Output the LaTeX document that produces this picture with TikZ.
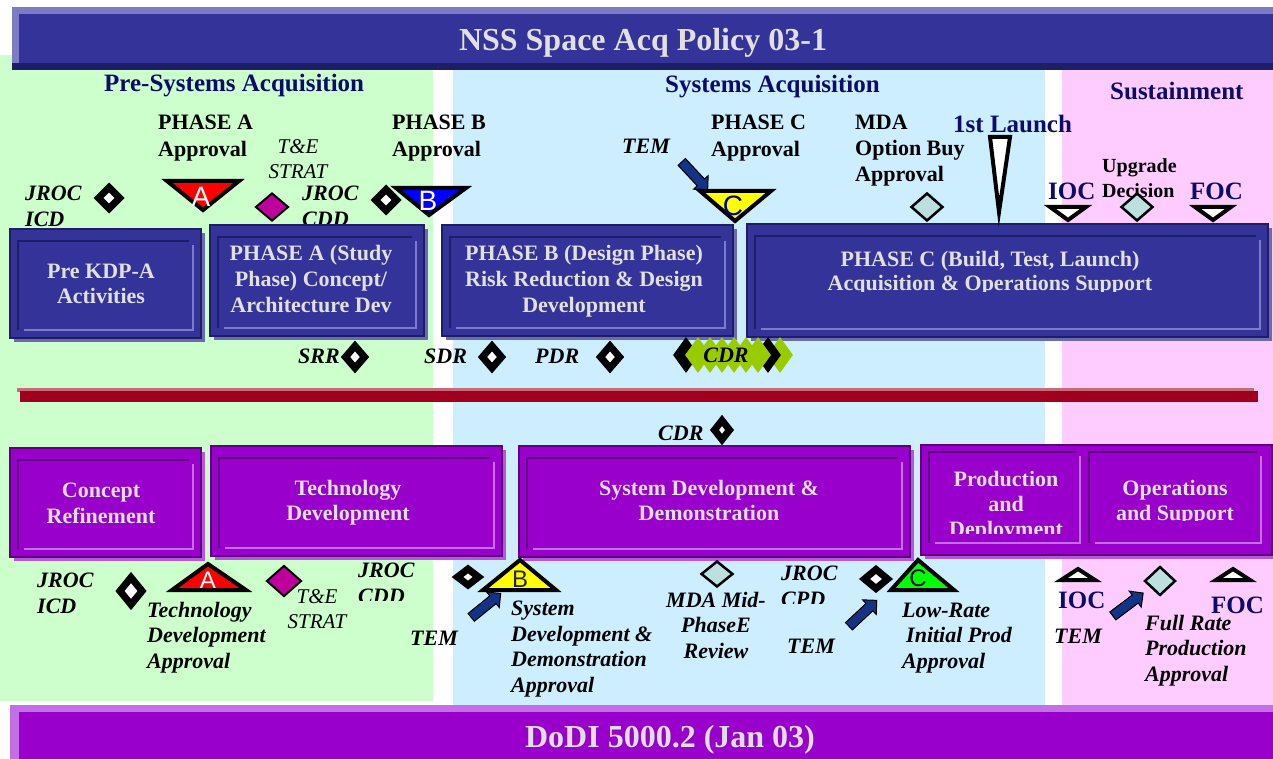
\documentclass[tikz,border=0pt]{standalone}
\usepackage{fontspec}
\setmainfont{Liberation Serif}
\newfontfamily\sansf{Liberation Sans}
\usetikzlibrary{shapes.geometric,shapes.arrows,fit}
\definecolor{navy}{HTML}{333399}
\definecolor{navydk}{HTML}{1E1E66}
\definecolor{navylt}{HTML}{7C7CC4}
\definecolor{navysh}{HTML}{6A6AB0}
\definecolor{purp}{HTML}{9900CC}
\definecolor{purpdk}{HTML}{5E0080}
\definecolor{purplt}{HTML}{C36FE6}
\definecolor{purpsh}{HTML}{B855DD}
\definecolor{boxtxt}{HTML}{E0E0E0}
\definecolor{ttl}{HTML}{0B0B6B}
\definecolor{bggreen}{HTML}{CCFFCC}
\definecolor{bgblue}{HTML}{CCEEFF}
\definecolor{bgpink}{HTML}{FFCCFF}
\definecolor{redln}{HTML}{A0001E}
\definecolor{redlt}{HTML}{C86A78}
\definecolor{tealc}{HTML}{BCE0E0}
\definecolor{magent}{HTML}{C0009C}
\definecolor{arrnavy}{HTML}{143384}
\definecolor{cdrgreen}{HTML}{99CC00}
\definecolor{triyel}{HTML}{FFFF00}
\definecolor{trigrn}{HTML}{00FF00}
\definecolor{triblu}{HTML}{0000FF}
\definecolor{trired}{HTML}{FF0000}
\definecolor{cnavy}{HTML}{000099}
% frame lines inside a bevelled box: x1 y1 x2 y2 dark light
\newcommand\bevframe[6]{%
  \draw[#5, line width=2.5pt] (#1,#4) -- (#1,#2) -- (#3-4,#2);
  \draw[#6, line width=2.5pt] (#1+6,#4) -- (#3,#4) -- (#3,#2+4);
}
% name x1 y1 x2 y2 fill dark light shadow
\newcommand\bevbox[9]{%
  \fill[#9] (#2+4,#3+4) rectangle (#4+4,#5+4);
  \node[fit={(#2,#3) (#4,#5)}, inner sep=0pt, fill=#6, draw=#7, line width=2pt] (#1) {};
  \bevframe{#2+8}{#3+12}{#4-8}{#5-8}{#7}{#8}
}
\begin{document}
\begin{tikzpicture}[x=1pt,y=-1pt,
  lbl/.style={font=\fontsize{22}{27}\selectfont\bfseries, align=left, anchor=base west, inner sep=0pt},
  ilbl/.style={font=\fontsize{22}{25.5}\selectfont\bfseries\itshape, align=left, anchor=base west, inner sep=0pt},
  tlbl/.style={font=\fontsize{21}{25}\selectfont\itshape, align=center, anchor=base, inner sep=0pt},
  region/.style={font=\fontsize{25}{30}\selectfont\bfseries, text=ttl, anchor=base west, inner sep=0pt},
  boxt/.style={font=\fontsize{22}{26}\selectfont\bfseries, text=boxtxt, align=center, anchor=base, inner sep=0pt},
  bart/.style={font=\fontsize{32}{36}\selectfont\bfseries, text=boxtxt, inner sep=0pt},
  blkdia/.style={diamond, draw=black, fill=white, line width=7pt, inner sep=0pt},
  tealdia/.style={diamond, draw=black, fill=tealc, line width=2.5pt, inner sep=0pt},
  magdia/.style={diamond, draw=black, fill=magent, line width=2pt, inner sep=0pt},
  cdrg/.style={diamond, fill=cdrgreen, minimum width=26pt, minimum height=36pt, inner sep=0pt},
  cdrb/.style={diamond, fill=black, minimum width=26pt, minimum height=36pt, inner sep=0pt},
  tri/.style={draw=black, line width=4pt, line join=miter},
  trilet/.style={font=\sansf\fontsize{28}{28}\selectfont, inner sep=0pt},
  trilets/.style={font=\sansf\fontsize{24}{24}\selectfont, inner sep=0pt},
  temarrow/.style={single arrow, draw=black, line width=1pt, fill=arrnavy, minimum height=38pt, minimum width=20pt, single arrow head extend=5pt, inner sep=4.5pt}
]
\useasboundingbox (0,0) rectangle (1273,759);
% backgrounds
\fill[bggreen] (0,55) rectangle (433,701);
\fill[bgblue] (453,70) rectangle (1045,705);
\fill[bgpink] (1062,70) rectangle (1273,705);
% top bar
\fill[navylt] (12,7) rectangle (1273,70);
\fill[navydk] (12,63) rectangle (1273,70);
\node[fit={(19,14) (1273,63)}, inner sep=0pt, fill=navy] (topbar) {};
\node[bart] (toptitle) at (643,43) {NSS Space Acq Policy 03-1};
% bottom bar
\fill[purplt] (10,705) rectangle (1273,759);
\node[fit={(19,712) (1273,759)}, inner sep=0pt, fill=purp] (botbar) {};
\node[bart] (bottitle) at (670,740) {DoDI 5000.2 (Jan 03)};
% region titles
\node[region] (pretitle) at (104,92) {Pre-Systems Acquisition};
\node[region] (systitle) at (665,93) {Systems Acquisition};
\node[region] (susttitle) at (1110,100) {Sustainment};
% top labels (base anchor = baseline of last line)
\node[lbl] (phAappr) at (158,157) {PHASE A\\Approval};
\node[tlbl] (teT) at (298,179) {T\&E\\STRAT};
\node[ilbl] (jrocicdT) at (25,226) {JROC\\ICD};
\node[ilbl] (jroccddT) at (302,226) {JROC\\CDD};
\node[lbl] (phBappr) at (392,157) {PHASE B\\Approval};
\node[ilbl] (temT) at (622,154) {TEM};
\node[lbl] (phCappr) at (711,157) {PHASE C\\Approval};
\node[lbl, font=\fontsize{22}{26}\selectfont\bfseries] (mdaopt) at (855,182) {MDA\\Option Buy\\Approval};
\node[region] (launch) at (953,133) {1st Launch};
\begin{scope}
\clip (1095,150) rectangle (1190,200);
\node[lbl, font=\fontsize{20}{25}\selectfont\bfseries] (upgrade) at (1102,198) {Upgrade\\Decision};
\end{scope}
\node[region] (iocT) at (1048,200) {IOC};
\node[region] (focT) at (1190,200) {FOC};
% top boxes
\bevbox{preKDP}{10}{229}{201}{338}{navy}{navydk}{navylt}{navysh}
\bevbox{phaseA}{210}{225}{424}{336}{navy}{navydk}{navylt}{navysh}
\bevbox{phaseB}{442}{225}{733}{336}{navy}{navydk}{navylt}{navysh}
\bevbox{phaseC}{747}{224}{1268}{337}{navy}{navydk}{navylt}{navysh}
\node[boxt, font=\fontsize{22}{25}\selectfont\bfseries] (preKDPt) at (101,303) {Pre KDP-A\\Activities};
\node[boxt] (phaseAt) at (311,312) {PHASE A (Study\\Phase) Concept/\\Architecture Dev};
\node[boxt] (phaseBt) at (584,312) {PHASE B (Design Phase)\\Risk Reduction \& Design\\Development};
\begin{scope}
\clip (760,240) rectangle (1250,291);
\node[boxt, font=\fontsize{22}{24}\selectfont\bfseries] (phaseCt) at (990,290) {PHASE C (Build, Test, Launch)\\Acquisition \& Operations Support};
\end{scope}
% top markers
\node[blkdia, minimum width=24pt, minimum height=24pt] (icdTd) at (109,198) {};
\draw[tri, fill=trired] (167,181) -- (239,181) -- (203,210) -- cycle;
\node[trilet, text=white] (triAtop) at (201,197) {A};
\node[magdia, minimum width=33pt, minimum height=28pt] (teTd) at (272,207) {};
\draw[tri, fill=triblu] (396,188) -- (466,188) -- (429,215) -- cycle;
\node[trilet, text=white] (triBtop) at (428,201) {B};
\node[blkdia, minimum width=24pt, minimum height=24pt] (cddTd) at (386,200) {};
\node[temarrow, rotate=-47] (temTa) at (693,174) {};
\draw[tri, fill=triyel] (700,191) -- (771,191) -- (735,221) -- cycle;
\node[trilet, text=cnavy] (triCtop) at (733,206) {C};
\node[tealdia, minimum width=32pt, minimum height=28pt] (mdaoptd) at (927,207) {};
\draw[tri, fill=white] (990,137) -- (1010,137) -- (999,212) -- cycle;
\draw[tri, fill=white] (1050,207) -- (1086,207) -- (1068,220) -- cycle;
\node[tealdia, minimum width=32pt, minimum height=28pt] (upgraded) at (1137,207) {};
\draw[tri, fill=white] (1195,207) -- (1231,207) -- (1213,220) -- cycle;
% review milestones
\node[ilbl] (srr) at (298,363) {SRR};
\node[blkdia, minimum width=22pt, minimum height=25pt] (srrd) at (355,357) {};
\node[ilbl] (sdr) at (424,363) {SDR};
\node[blkdia, minimum width=22pt, minimum height=25pt] (sdrd) at (492,357) {};
\node[ilbl] (pdr) at (535,363) {PDR};
\node[blkdia, minimum width=22pt, minimum height=25pt] (pdrd) at (610,357) {};
% CDR band
\node[cdrg] (cdrgR) at (780,355) {};
\node[cdrb] (cdrbR) at (768,355) {};
\node[cdrb] (cdrbL) at (686,355) {};
\foreach \cx in {698,710,722,734,746,758} {\node[cdrg] (cdrg\cx) at (\cx,355) {};}
\node[ilbl, anchor=base] (cdrTop) at (726,362) {CDR};
% divider
\fill[redlt] (17,388) rectangle (1254,392);
\node[fit={(20,391) (1258,402)}, inner sep=0pt, fill=redln] (divider) {};
% bottom CDR
\node[ilbl] (cdrB) at (658,440) {CDR};
\node[blkdia, minimum width=18pt, minimum height=22pt] (cdrBd) at (722,430) {};
% bottom boxes
\bevbox{concept}{10}{448}{201}{557}{purp}{purpdk}{purplt}{purpsh}
\bevbox{techdev}{211}{446}{502}{556}{purp}{purpdk}{purplt}{purpsh}
\bevbox{sdd}{519}{446}{910}{557}{purp}{purpdk}{purplt}{purpsh}
\fill[purpsh] (925,449) rectangle (1276,559);
\node[fit={(921,445) (1272,555)}, inner sep=0pt, fill=purp, draw=purpdk, line width=2pt] (prodops) {};
\bevframe{929}{452}{1080}{543}{purpdk}{purplt}
\bevframe{1089}{452}{1261}{543}{purpdk}{purplt}
\node[boxt] (conceptt) at (101,523) {Concept\\Refinement};
\node[boxt, font=\fontsize{22}{25}\selectfont\bfseries] (techdevt) at (348,520) {Technology\\Development};
\node[boxt, font=\fontsize{22}{25}\selectfont\bfseries] (sddt) at (709,520) {System Development \&\\Demonstration};
\begin{scope}
\clip (932,456) rectangle (1078,533);
\node[boxt, font=\fontsize{22}{25}\selectfont\bfseries] (prodt) at (1006,536) {Production\\and\\Deployment};
\end{scope}
\begin{scope}
\clip (1092,456) rectangle (1258,520);
\node[boxt, font=\fontsize{22}{25}\selectfont\bfseries] (opst) at (1175,520) {Operations\\and Support};
\end{scope}
% bottom labels and markers
\node[ilbl, font=\fontsize{22}{26}\selectfont\bfseries\itshape] (jrocicdB) at (37,613) {JROC\\ICD};
\node[blkdia, minimum width=25pt, minimum height=30pt] (icdBd) at (131,591) {};
\draw[tri, fill=trired] (172,590) -- (246,590) -- (208,564) -- cycle;
\node[trilets, text=white] (triAbot) at (208,580) {A};
\node[ilbl] (tdappr) at (147,668) {Technology\\Development\\Approval};
\node[magdia, minimum width=35pt, minimum height=31pt] (teBd) at (284,581) {};
\node[tlbl] (teB) at (317,628) {T\&E\\STRAT};
\begin{scope}
\clip (350,545) rectangle (445,600);
\node[ilbl] (jroccddB) at (358,603) {JROC\\CDD};
\end{scope}
\draw[tri, fill=triyel] (483,590) -- (556,590) -- (520,560) -- cycle;
\node[trilets, text=black!85] (triBbot) at (520,579) {B};
\node[blkdia, minimum width=24pt, minimum height=19pt] (cddBd) at (468,577) {};
\node[temarrow, rotate=39] (temBa1) at (484,607) {};
\node[ilbl] (temB1) at (410,645) {TEM};
\node[ilbl] (sddappr) at (511,692) {System\\Development \&\\Demonstration\\Approval};
\node[tealdia, minimum width=32pt, minimum height=26pt] (mdamidd) at (717,574) {};
\node[ilbl, align=center, anchor=base] (mdamid) at (716,658) {MDA Mid-\\PhaseE\\Review};
\begin{scope}
\clip (775,545) rectangle (850,603);
\node[ilbl] (jroccpd) at (781,606) {JROC\\CPD};
\end{scope}
\draw[tri, fill=trigrn] (891,590) -- (954,590) -- (918,560) -- cycle;
\node[trilets, text=black] (triCbot) at (918,578) {C};
\node[blkdia, minimum width=26pt, minimum height=22pt] (cpdd) at (876,579) {};
\node[temarrow, rotate=43] (temBa2) at (861,615) {};
\node[ilbl] (temB2) at (787,653) {TEM};
\node[ilbl] (lrip) at (902,668) {Low-Rate\\\hspace*{4pt}Initial Prod\\Approval};
\draw[tri, fill=white] (1061,580) -- (1095,580) -- (1078,569) -- cycle;
\node[region] (iocB) at (1058,608) {IOC};
\node[ilbl] (temB3) at (1054,643) {TEM};
\node[temarrow, rotate=37] (temBa3) at (1126,606) {};
\node[tealdia, minimum width=31pt, minimum height=29pt] (frpd) at (1160,581) {};
\node[ilbl] (frp) at (1145,681) {Full Rate\\Production\\Approval};
\draw[tri, fill=white] (1216,580) -- (1250,580) -- (1233,569) -- cycle;
\node[region] (focB) at (1211,613) {FOC};
\end{tikzpicture}
\end{document}
